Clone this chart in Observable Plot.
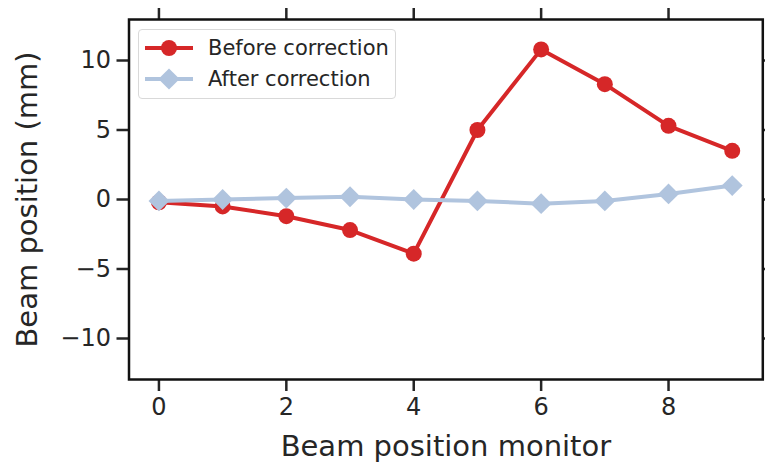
<!DOCTYPE html>
<html>
<head>
<meta charset="utf-8">
<script src="https://cdn.jsdelivr.net/npm/d3@7"></script>
<script src="https://cdn.jsdelivr.net/npm/@observablehq/plot@0.6"></script>
<style>
  html, body { margin: 0; padding: 0; background: #fff; }
  #wrap { position: relative; width: 765px; height: 462px; font-family: "DejaVu Sans", sans-serif; }
  #legend { position: absolute; left: 138px; top: 29px; width: 258px; height: 70px; box-sizing: border-box;
    border: 1.3px solid #d9d9d9; border-radius: 4px; background: rgba(255,255,255,0.85); }
  .row { position: absolute; left: 6px; height: 28px; display: flex; align-items: center; }
  .row span { font-size: 21px; color: #262626; margin-left: 15px; white-space: nowrap; }
</style>
</head>
<body>
<div id="wrap"><div id="chart"></div><div id="legend"></div></div>
<script>
const monitors = [0, 1, 2, 3, 4, 5, 6, 7, 8, 9];
const before = [-0.2, -0.5, -1.2, -2.2, -3.9, 5.0, 10.8, 8.3, 5.3, 3.5];
const after = [-0.1, 0.0, 0.1, 0.2, 0.0, -0.1, -0.3, -0.1, 0.4, 1.0];
const seriesNames = ["Before correction", "After correction"];
const colors = ["#d62728", "#b0c4de"];
const xTicks = [0, 2, 4, 6, 8];
const yTicks = [-10, -5, 0, 5, 10];

const rows = [];
monitors.forEach((m, i) => {
  rows.push({x: m, y: before[i], s: seriesNames[0]});
});
monitors.forEach((m, i) => {
  rows.push({x: m, y: after[i], s: seriesNames[1]});
});
const beforeRows = rows.filter(d => d.s === seriesNames[0]);
const afterRows = rows.filter(d => d.s === seriesNames[1]);
const ink = "#262626";

const chart = Plot.plot({
  width: 765,
  height: 462,
  marginLeft: 128.5,
  marginRight: 2.7,
  marginTop: 19,
  marginBottom: 83,
  style: {fontFamily: "DejaVu Sans, sans-serif", color: ink, background: "#fff"},
  x: {domain: [-0.47, 9.48]},
  y: {domain: [-12.95, 12.95]},
  marks: [
    Plot.line(beforeRows, {x: "x", y: "y", stroke: colors[0], strokeWidth: 4}),
    Plot.dot(beforeRows, {x: "x", y: "y", fill: colors[0], r: 8, symbol: "circle"}),
    Plot.line(afterRows, {x: "x", y: "y", stroke: colors[1], strokeWidth: 4}),
    Plot.dot(afterRows, {x: "x", y: "y", fill: colors[1], r: 9.4, symbol: "diamond2"}),
    Plot.axisX({ticks: xTicks, anchor: "bottom", tickSize: 12, tickPadding: 6, strokeWidth: 2.5, fontSize: 24, label: null, stroke: ink, fill: ink}),
    Plot.axisX({ticks: xTicks, anchor: "top", tickSize: 12, tickFormat: () => "", strokeWidth: 2.5, label: null, stroke: ink}),
    Plot.axisY({ticks: yTicks, anchor: "left", tickSize: 12, tickPadding: 6, strokeWidth: 2.5, fontSize: 24, label: null, stroke: ink, fill: ink, tickFormat: d => d < 0 ? "\u2212" + Math.abs(d) : String(d)}),
    Plot.axisY({ticks: yTicks, anchor: "right", tickSize: 12, tickFormat: () => "", strokeWidth: 2.5, label: null, stroke: ink}),
    Plot.axisX({ticks: [], anchor: "bottom", label: "Beam position monitor", labelAnchor: "center", labelArrow: "none", labelOffset: 76, fontSize: 29, fill: ink}),
    Plot.axisY({ticks: [], anchor: "left", label: "Beam position (mm)", labelAnchor: "center", labelArrow: "none", labelOffset: 113, fontSize: 29, fill: ink}),
    Plot.frame({stroke: "#111", strokeWidth: 2.5})
  ]
});
document.getElementById("chart").appendChild(chart);

const legend = document.getElementById("legend");
seriesNames.forEach((name, i) => {
  const row = document.createElement("div");
  row.className = "row";
  row.style.top = (4 + i * 31) + "px";
  const marker = i === 0
    ? `<circle cx="24" cy="14" r="8" fill="${colors[i]}"/>`
    : `<rect x="16.5" y="6.5" width="15" height="15" fill="${colors[i]}" transform="rotate(45 24 14)"/>`;
  row.innerHTML = `<svg width="48" height="28"><line x1="0" x2="48" y1="14" y2="14" stroke="${colors[i]}" stroke-width="4"/>${marker}</svg><span>${name}</span>`;
  legend.appendChild(row);
});
</script>
</body>
</html>
